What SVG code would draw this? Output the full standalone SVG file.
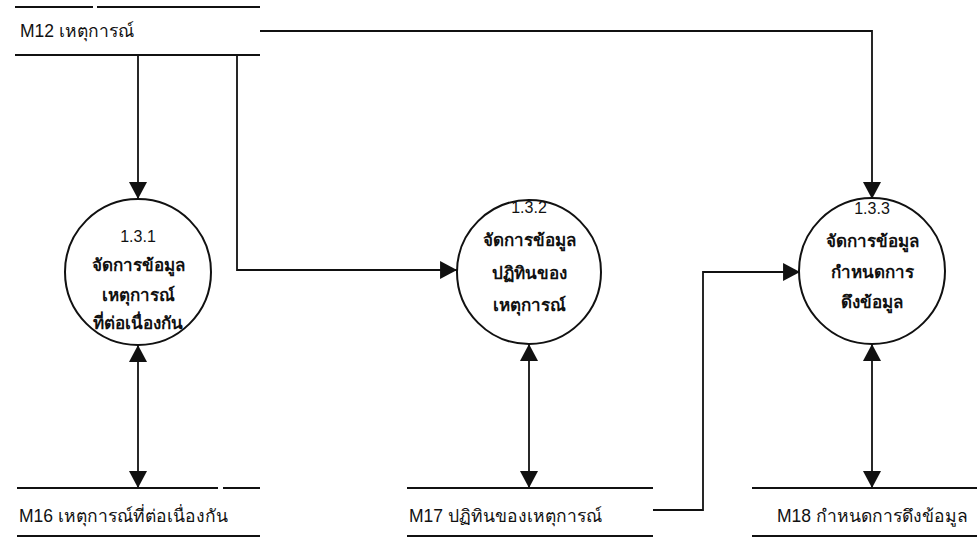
<svg xmlns="http://www.w3.org/2000/svg" width="979" height="538" viewBox="0 0 979 538">
<style>
.bg{fill:#ffffff}
.store line{stroke:#111;stroke-width:2}
.circ{fill:#fff;stroke:#111;stroke-width:2}
.conn{fill:none;stroke:#111;stroke-width:1.8}
.st{font-family:"Liberation Sans","DejaVu Sans",sans-serif;font-size:17.5px;fill:#111}
.num{font-family:"Liberation Sans","DejaVu Sans",sans-serif;font-size:16px;fill:#111;text-anchor:middle}
.lbl{font-family:"Liberation Sans","DejaVu Sans",sans-serif;font-size:17px;font-weight:bold;fill:#111;text-anchor:middle}
</style>
<defs>
<marker id="arr" markerUnits="userSpaceOnUse" markerWidth="18" markerHeight="18" viewBox="0 0 16 17" refX="16" refY="8.5" orient="auto-start-reverse">
<path d="M0,0 L16,8.5 L0,17 Z" fill="#111"/>
</marker>
</defs>
<rect class="bg" x="0" y="0" width="979" height="538"/>

<g id="connectors">
<path class="conn" d="M138,55 L138,199" marker-end="url(#arr)"/>
<path class="conn" d="M237,55 L237,270 L457,270" marker-end="url(#arr)"/>
<path class="conn" d="M260,31 L872,31 L872,199" marker-end="url(#arr)"/>
<path class="conn" d="M138,345 L138,488" marker-start="url(#arr)" marker-end="url(#arr)"/>
<path class="conn" d="M529,344 L529,488" marker-start="url(#arr)" marker-end="url(#arr)"/>
<path class="conn" d="M872,344 L872,488" marker-start="url(#arr)" marker-end="url(#arr)"/>
<path class="conn" d="M653,510 L703,510 L703,272 L800,272" marker-end="url(#arr)"/>
</g>

<g id="M12" class="store">
<line x1="15" y1="7" x2="93" y2="7"/>
<line x1="97" y1="7" x2="260" y2="7"/>
<line x1="15" y1="55" x2="260" y2="55"/>
<text class="st" x="20" y="37">M12 เหตุการณ์</text>
</g>

<g id="P131">
<circle class="circ" cx="138" cy="272" r="73"/>
<text class="num" x="138" y="242">1.3.1</text>
<text class="lbl" x="138" y="271">จัดการข้อมูล</text>
<text class="lbl" x="138" y="301">เหตุการณ์</text>
<text class="lbl" x="138" y="329">ที่ต่อเนื่องกัน</text>
</g>

<g id="P132">
<circle class="circ" cx="529" cy="272" r="72"/>
<text class="num" x="529" y="213">1.3.2</text>
<text class="lbl" x="529" y="246">จัดการข้อมูล</text>
<text class="lbl" x="529" y="279">ปฏิทินของ</text>
<text class="lbl" x="529" y="311">เหตุการณ์</text>
</g>

<g id="P133">
<circle class="circ" cx="872" cy="271" r="73"/>
<text class="num" x="872" y="214">1.3.3</text>
<text class="lbl" x="872" y="247">จัดการข้อมูล</text>
<text class="lbl" x="872" y="278">กำหนดการ</text>
<text class="lbl" x="872" y="308">ดึงข้อมูล</text>
</g>

<g id="M16" class="store">
<line x1="17" y1="488" x2="218" y2="488"/>
<line x1="223" y1="488" x2="260" y2="488"/>
<line x1="17" y1="536" x2="260" y2="536"/>
<text class="st" x="19" y="522">M16 เหตุการณ์ที่ต่อเนื่องกัน</text>
</g>

<g id="M17" class="store">
<line x1="407" y1="488" x2="653" y2="488"/>
<line x1="407" y1="536" x2="653" y2="536"/>
<text class="st" x="409" y="522">M17 ปฏิทินของเหตุการณ์</text>
</g>

<g id="M18" class="store">
<line x1="752" y1="488" x2="977" y2="488"/>
<line x1="752" y1="536" x2="977" y2="536"/>
<text class="st" x="777" y="522">M18 กำหนดการดึงข้อมูล</text>
</g>
</svg>
